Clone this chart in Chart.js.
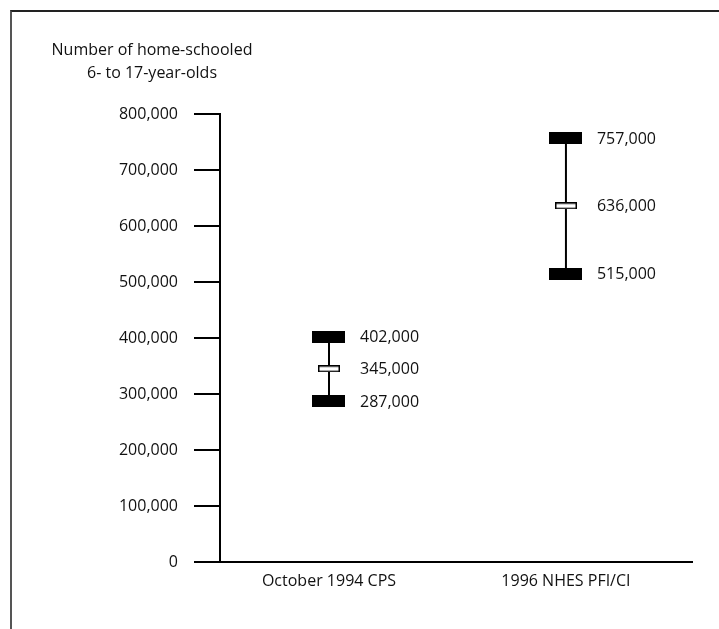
<!DOCTYPE html>
<html>
<head>
<meta charset="utf-8">
<title>Home-schooled 6- to 17-year-olds</title>
<script src="https://cdn.jsdelivr.net/npm/chart.js@4/dist/chart.umd.min.js"></script>
<style>
    html, body { margin: 0; padding: 0; background: #fff; }
    #wrap { position: relative; width: 719px; height: 629px; overflow: hidden; }
    #frame {
        position: absolute; left: 10px; top: 10px; right: -4px; bottom: -4px;
        border-top: 2px solid #222; border-left: 2px solid #555;
        pointer-events: none;
    }
    #chart { position: absolute; left: 0; top: 0; }
</style>
</head>
<body>
<div id="wrap">
    <div id="frame"></div>
    <canvas id="chart" width="719" height="629"></canvas>
</div>
<script>
/* ---------- data ---------- */
const categories = ["October 1994 CPS", "1996 NHES PFI/CI"];
const lowValues  = [287000, 515000];
const estimates  = [345000, 636000];
const highValues = [402000, 757000];

const yMin = 0;
const yMax = 800000;
const yStep = 100000;

const titleLines = ["Number of home-schooled", "6- to 17-year-olds"];

const FONT = "'Open Sans', 'DejaVu Sans', sans-serif";

/* ---------- marker images ---------- */
function makeBox(w, h, fill, stroke) {
    const c = document.createElement("canvas");
    c.width = w; c.height = h;
    const g = c.getContext("2d");
    g.fillStyle = fill;
    g.fillRect(0, 0, w, h);
    if (stroke) {
        g.strokeStyle = stroke;
        g.lineWidth = 1.5;
        g.strokeRect(0.75, 0.75, w - 1.5, h - 1.5);
    }
    return c;
}
const capImg = makeBox(33, 12, "#000");
const midImg = makeBox(22, 7, "#fff", "#000");

/* ---------- datasets ---------- */
const fmt = v => v.toLocaleString("en-US");

const whiskers = categories.map((c, i) => ({
    type: "scatter",
    label: c + " range",
    data: [{ x: i, y: lowValues[i] }, { x: i, y: highValues[i] }],
    showLine: true,
    borderColor: "#000",
    borderWidth: 2,
    pointRadius: 0,
    order: 3
}));

const caps = {
    type: "scatter",
    label: "bounds",
    data: categories.flatMap((c, i) => [
        { x: i, y: highValues[i] },
        { x: i, y: lowValues[i] }
    ]),
    pointStyle: capImg,
    pointRadius: 6,
    order: 1
};

const mids = {
    type: "scatter",
    label: "estimate",
    data: categories.map((c, i) => ({ x: i, y: estimates[i] })),
    pointStyle: midImg,
    pointRadius: 6,
    order: 1
};

/* ---------- plugins ---------- */
const valueLabels = {
    id: "valueLabels",
    afterDatasetsDraw(chart) {
        const ctx = chart.ctx;
        ctx.save();
        ctx.font = "16px " + FONT;
        ctx.fillStyle = "#111";
        ctx.textAlign = "left";
        ctx.textBaseline = "middle";
        chart.data.datasets.forEach((ds, di) => {
            if (ds !== caps && ds !== mids) return;
            const meta = chart.getDatasetMeta(di);
            meta.data.forEach((pt, k) => {
                ctx.fillText(fmt(ds.data[k].y), pt.x + 31, pt.y + 1);
            });
        });
        ctx.restore();
    }
};

const axisTitle = {
    id: "axisTitle",
    afterDraw(chart) {
        const ctx = chart.ctx;
        ctx.save();
        ctx.font = "16px " + FONT;
        ctx.fillStyle = "#111";
        ctx.textAlign = "center";
        ctx.textBaseline = "alphabetic";
        ctx.fillText(titleLines[0], 152, 55);
        ctx.fillText(titleLines[1], 152, 78);
        ctx.restore();
    }
};

/* ---------- chart ---------- */
new Chart(document.getElementById("chart"), {
    type: "scatter",
    data: { datasets: [caps, mids, ...whiskers] },
    options: {
        responsive: false,
        animation: false,
        events: [],
        layout: { padding: { top: 114, right: 27, left: 0, bottom: 0 } },
        plugins: {
            legend: { display: false },
            tooltip: { enabled: false }
        },
        scales: {
            x: {
                type: "linear",
                min: -0.46,
                max: 1.532,
                afterBuildTicks: s => { s.ticks = categories.map((c, i) => ({ value: i })); },
                afterFit: s => { s.height = 67; },
                grid: { display: false, drawTicks: false },
                border: { display: true, color: "#000", width: 2 },
                ticks: {
                    padding: 10,
                    color: "#111",
                    font: { family: FONT, size: 16 },
                    maxRotation: 0,
                    callback: v => categories[v]
                }
            },
            y: {
                min: yMin,
                max: yMax,
                afterFit: s => { s.width = 220; },
                grid: {
                    drawOnChartArea: false,
                    drawTicks: true,
                    tickLength: 26,
                    color: "#000",
                    lineWidth: 2
                },
                border: { display: true, color: "#000", width: 2 },
                ticks: {
                    stepSize: yStep,
                    padding: 16,
                    color: "#111",
                    font: { family: FONT, size: 16 },
                    callback: v => fmt(v)
                }
            }
        }
    },
    plugins: [valueLabels, axisTitle]
});
</script>
</body>
</html>
